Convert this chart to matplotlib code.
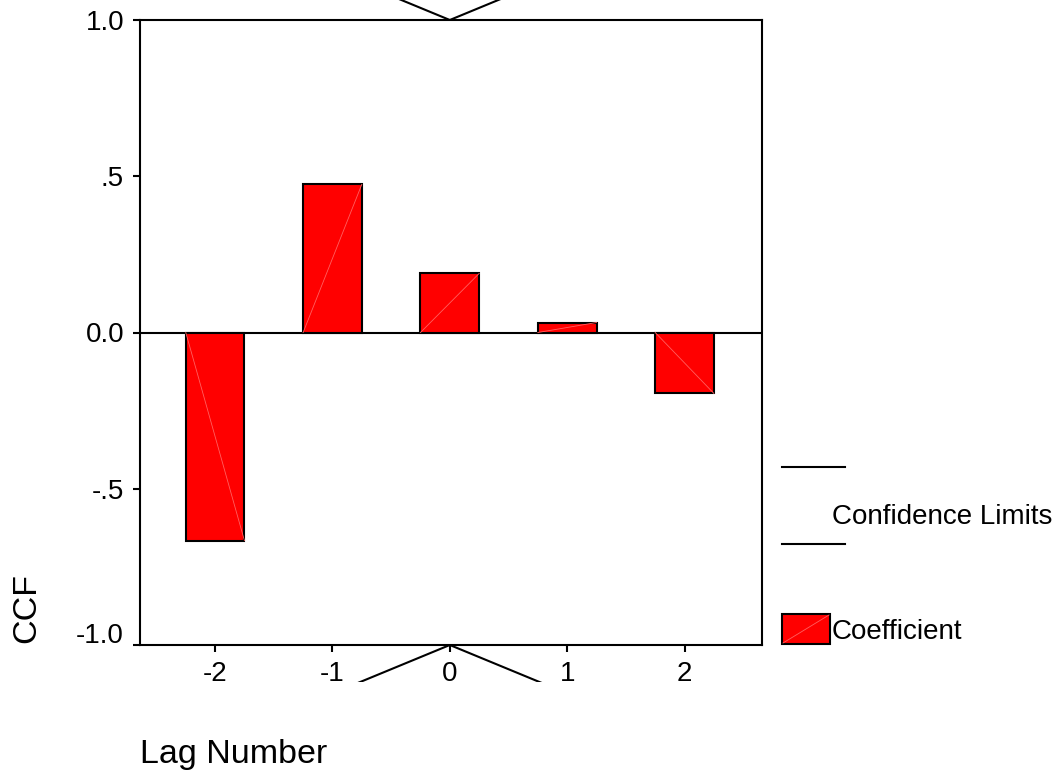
# CCF plot, lag -2..2, SPSS style
import numpy as np
import matplotlib.pyplot as plt
from matplotlib.lines import Line2D
from matplotlib.patches import Rectangle
from matplotlib.transforms import Bbox, TransformedBbox, ScaledTranslation

plt.rcParams['font.family'] = ['Liberation Sans', 'DejaVu Sans']
plt.rcParams['font.size'] = 20

# data
lags = [-2, -1, 0, 1, 2]
ccf = [-0.666, 0.474, 0.189, 0.032, -0.195]
conf_upper = [1.414, 1.155, 1.0, 1.155, 1.414]
conf_lower = [-1.414, -1.155, -1.0, -1.155, -1.414]
yticks = [-1.0, -0.5, 0.0, 0.5, 1.0]
ytick_labels = ['-1.0', '-.5', '0.0', '.5', '1.0']

W, H = 1063, 778
fig = plt.figure(figsize=(W / 100, H / 100), dpi=100)
ax = fig.add_axes([140 / W, 1 - 645 / H, 622 / W, 625 / H])

bar_w = 0.5
ax.axhline(0, color='black', lw=1.5, zorder=1)
ax.bar(lags, ccf, width=bar_w, color='#ff0000', edgecolor='black', linewidth=1.5, zorder=2)
# the thin diagonal inside each bar
for x, v in zip(lags, ccf):
    ax.plot([x - bar_w / 2, x + bar_w / 2], [0, v], color='#ff6060', lw=0.6, zorder=3)

# confidence limits run outside the frame
clip = TransformedBbox(Bbox.from_extents(0, (H - 682) / H, 1, 1), fig.transFigure)
for lim in (conf_upper, conf_lower):
    ln, = ax.plot(lags, lim, color='black', lw=1.5, zorder=4)
    ln.set_clip_box(clip)

ax.set_xlim(-2.64, 2.66)
ax.set_ylim(-1, 1)
ax.set_xticks(lags)
ax.set_xticklabels([str(l) for l in lags])
ax.set_yticks(yticks)
ax.set_yticklabels(ytick_labels)
ax.tick_params(direction='out', length=5, width=1.5, pad=6.5)
for s in ax.spines.values():
    s.set_linewidth(1.5)

# bottom y label sits a bit above its tick
lab = ax.get_yticklabels()[0]
lab.set_transform(lab.get_transform() + ScaledTranslation(0, 12 / 100, fig.dpi_scale_trans))

fig.text(27 / W, 1 - 608 / H, 'CCF', rotation=90, ha='center', va='center', fontsize=24.5)
fig.text(140 / W, 1 - 755 / H, 'Lag Number', ha='left', va='center', fontsize=24.5)

# legend drawn by hand
for yy in (467, 544):
    fig.add_artist(Line2D([782 / W, 845 / W], [1 - yy / H, 1 - yy / H], color='black', lw=1.5))
fig.text(832 / W, 1 - 517 / H, 'Confidence Limits', ha='left', va='center')
fig.add_artist(Rectangle((782 / W, 1 - 644 / H), 48 / W, 30 / H, facecolor='#ff0000',
                         edgecolor='black', lw=1.5, transform=fig.transFigure))
fig.add_artist(Line2D([783 / W, 829 / W], [1 - 643 / H, 1 - 615 / H], color='#ff6060', lw=0.6))
fig.text(832 / W, 1 - 632 / H, 'Coefficient', ha='left', va='center')

plt.savefig('out.png', dpi=100)
